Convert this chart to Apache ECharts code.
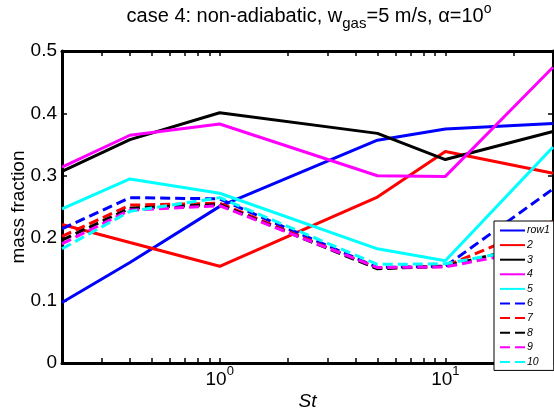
<!DOCTYPE html>
<html>
<head>
<meta charset="utf-8">
<script src="https://cdn.jsdelivr.net/npm/echarts@6/dist/echarts.min.js"></script>
<style>
html,body{margin:0;padding:0;background:#fff;}
#chart{width:554px;height:412px;}
</style>
</head>
<body>
<div id="chart"></div>
<script>
// ---- data ----
const St = [0.2, 0.4, 1, 5, 10, 30];
const seriesNames = ['row1', '2', '3', '4', '5', '6', '7', '8', '9', '10'];
const row1 = [0.097, 0.161, 0.251, 0.357, 0.375, 0.384];
const row2 = [0.222, 0.193, 0.155, 0.266, 0.339, 0.304];
const row3 = [0.307, 0.358, 0.401, 0.368, 0.326, 0.371];
const row4 = [0.314, 0.365, 0.383, 0.300, 0.299, 0.474];
const row5 = [0.247, 0.295, 0.272, 0.183, 0.164, 0.346];
const row6 = [0.215, 0.265, 0.263, 0.153, 0.155, 0.279];
const row7 = [0.203, 0.253, 0.256, 0.152, 0.155, 0.227];
const row8 = [0.197, 0.248, 0.254, 0.151, 0.155, 0.197];
const row9 = [0.191, 0.245, 0.252, 0.153, 0.154, 0.187];
const row10 = [0.183, 0.243, 0.265, 0.158, 0.159, 0.191];
const rows = [row1, row2, row3, row4, row5, row6, row7, row8, row9, row10];
const xMajorTicks = [1, 10];
const xMinorTicks = [0.2, 0.3, 0.4, 0.5, 0.6, 0.7, 0.8, 0.9, 1, 2, 3, 4, 5, 6, 7, 8, 9, 10, 20, 30];
const yTicks = [0, 0.1, 0.2, 0.3, 0.4, 0.5];

// ---- styles ----
const colors = ['#0000ff', '#ff0000', '#000000', '#ff00ff', '#00ffff',
                '#0000ff', '#ff0000', '#000000', '#ff00ff', '#00ffff'];
const FONT = 'Liberation Sans, Arial, Helvetica, sans-serif';

const series = rows.map((r, i) => ({
  name: seriesNames[i],
  type: 'line',
  data: St.map((x, j) => [x, r[j]]),
  symbol: 'none',
  showSymbol: false,
  animation: false,
  color: colors[i],
  lineStyle: {
    color: colors[i],
    width: 3,
    type: i >= 5 ? [10, 5] : 'solid'
  },
  emphasis: { disabled: true }
}));

const axisLine = { show: true, onZero: false, lineStyle: { color: '#000', width: 3 } };
const tick = { show: true, inside: true, length: 5, lineStyle: { color: '#000', width: 1.5 } };

const chart = echarts.init(document.getElementById('chart'), null, { renderer: 'canvas' });
chart.setOption({
  animation: false,
  backgroundColor: '#fff',
  title: {
    left: 309,
    textAlign: 'center',
    top: 1,
    padding: 0,
    text: '{a|case 4: non-adiabatic, w}{sub|gas}{a|=5 m/s, \u03b1=10}{sup|o}',
    textStyle: {
      rich: {
        a: { fontFamily: FONT, fontSize: 20, fontWeight: 'normal', color: '#000', lineHeight: 30, verticalAlign: 'middle' },
        sub: { fontFamily: FONT, fontSize: 15, fontWeight: 'normal', color: '#000', lineHeight: 30, verticalAlign: 'bottom' },
        sup: { fontFamily: FONT, fontSize: 14, fontWeight: 'normal', color: '#000', lineHeight: 30, verticalAlign: 'top', padding: [1, 0, 0, 0] }
      }
    }
  },
  grid: { left: 62, right: 1, top: 51, bottom: 49, containLabel: false, outerBoundsMode: 'none' },
  legend: {
    orient: 'vertical',
    left: 494,
    top: 221,
    padding: [4, 4, 3, 5],
    itemWidth: 25,
    itemHeight: 10,
    itemGap: 3.6,
    backgroundColor: '#fff',
    borderColor: '#000',
    borderWidth: 1,
    selectedMode: false,
    data: seriesNames,
    itemStyle: { opacity: 0 },
    textStyle: { fontFamily: FONT, fontSize: 10.5, fontStyle: 'italic', color: '#000', lineHeight: 10, padding: [0, 0, 0, -3] }
  },
  xAxis: [
    {
      type: 'log',
      logBase: 10,
      min: 0.2,
      max: 30,
      position: 'bottom',
      name: 'St',
      nameLocation: 'middle',
      nameGap: 29,
      nameMoveOverlap: false,
      nameTextStyle: { fontFamily: FONT, fontSize: 19, fontStyle: 'italic', color: '#000' },
      axisLine: axisLine,
      axisTick: Object.assign({}, tick, { customValues: xMinorTicks }),
      minorTick: { show: false },
      splitLine: { show: false },
      axisLabel: {
        customValues: xMajorTicks,
        margin: 2,
        formatter: function (v) {
          const e = Math.round(Math.log10(v));
          return '{b|10}{s|' + e + '}';
        },
        rich: {
          b: { fontFamily: FONT, fontSize: 19, color: '#000', lineHeight: 24, verticalAlign: 'bottom' },
          s: { fontFamily: FONT, fontSize: 13, color: '#000', lineHeight: 24, verticalAlign: 'top' }
        }
      }
    },
    {
      type: 'log',
      logBase: 10,
      min: 0.2,
      max: 30,
      position: 'top',
      axisLine: axisLine,
      axisTick: Object.assign({}, tick, { customValues: xMinorTicks }),
      axisLabel: { show: false },
      splitLine: { show: false }
    }
  ],
  yAxis: [
    {
      type: 'value',
      min: 0,
      max: 0.5,
      interval: 0.1,
      position: 'left',
      name: 'mass fraction',
      nameLocation: 'middle',
      nameGap: 34,
      nameMoveOverlap: false,
      nameTextStyle: { fontFamily: FONT, fontSize: 19, color: '#000' },
      axisLine: axisLine,
      axisTick: Object.assign({}, tick, { customValues: yTicks }),
      splitLine: { show: false },
      axisLabel: { fontFamily: FONT, fontSize: 19, color: '#000', margin: 5, customValues: yTicks,
        formatter: function (v) { return v === 0 ? '0' : String(Math.round(v * 10) / 10); } }
    },
    {
      type: 'value',
      min: 0,
      max: 0.5,
      interval: 0.1,
      position: 'right',
      axisLine: axisLine,
      axisTick: Object.assign({}, tick, { customValues: yTicks }),
      axisLabel: { show: false },
      splitLine: { show: false }
    }
  ],
  series: series
});
</script>
</body>
</html>
